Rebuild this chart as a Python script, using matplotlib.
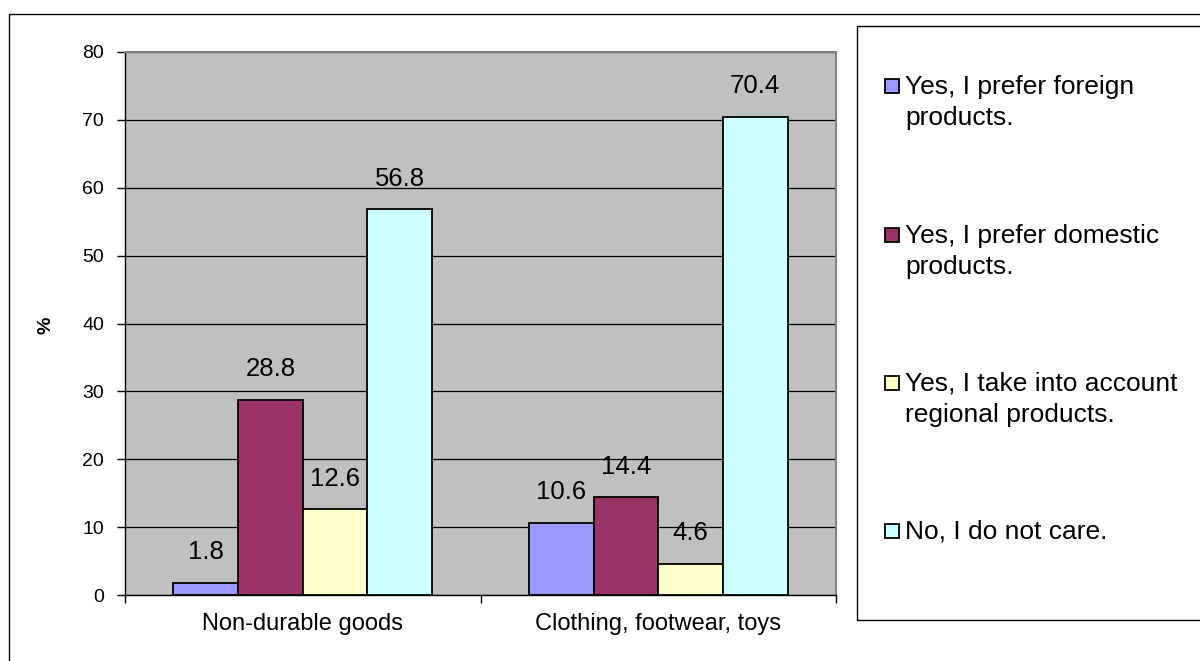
import matplotlib
matplotlib.use("Agg")
import matplotlib.pyplot as plt
from matplotlib.patches import Rectangle
import numpy as np

categories = ["Non-durable goods", "Clothing, footwear, toys"]
series_labels = [
    "Yes, I prefer foreign\nproducts.",
    "Yes, I prefer domestic\nproducts.",
    "Yes, I take into account\nregional products.",
    "No, I do not care.",
]
values = [
    [1.8, 10.6],
    [28.8, 14.4],
    [12.6, 4.6],
    [56.8, 70.4],
]
colors = ["#9999FF", "#993366", "#FFFFCC", "#CCFFFF"]
yticks = [0, 10, 20, 30, 40, 50, 60, 70, 80]

plt.rcParams['font.family'] = ['Liberation Sans', 'DejaVu Sans']

W, H = 1200, 661
fig = plt.figure(figsize=(12, 6.61), dpi=100)

# outer chart border
fig.add_artist(Rectangle((9 / W, -0.1), 1.2, 1 - 14 / H + 0.1, transform=fig.transFigure,
                         fill=False, edgecolor="#000000", linewidth=1.0))

ax = fig.add_axes([125 / W, (H - 595) / H, (836 - 125) / W, (595 - 52) / H])
ax.set_facecolor("#C0C0C0")
n = len(values)
bw = 1.0 / (n + 1.5)
x = np.arange(len(categories))
for i, (vals, c) in enumerate(zip(values, colors)):
    pos = x + (i - (n - 1) / 2) * bw
    bars = ax.bar(pos, vals, width=bw, color=c, edgecolor="black", linewidth=1.3, zorder=3)
    for b, v in zip(bars, vals):
        ax.text(b.get_x() + b.get_width() / 2, v + 3.5, f"{v}", ha="center", va="baseline",
                fontsize=18.5, zorder=4)

ax.set_xlim(-0.5, len(categories) - 0.5)
ax.set_ylim(0, 80)
ax.set_yticks(yticks)
ax.set_yticklabels([str(t) for t in yticks], fontsize=14)
ax.yaxis.grid(True, color="#000000", linewidth=0.9, zorder=0)
ax.set_axisbelow(True)
ax.set_xticks(x)
ax.set_xticklabels(categories, fontsize=17)
ax.set_xticks([-0.5, 0.5, 1.5], minor=True)
ax.tick_params(axis="x", which="major", length=0, pad=13)
ax.tick_params(axis="x", which="minor", length=6, width=1, color="#000000")
ax.tick_params(axis="y", length=6, width=1, pad=9)
for s in ["top", "right"]:
    ax.spines[s].set_color("#808080")
    ax.spines[s].set_linewidth(1.5)
for s in ["left", "bottom"]:
    ax.spines[s].set_color("#000000")
    ax.spines[s].set_linewidth(1.0)
fig.text(46 / W, 1 - 325 / H, "%", rotation=90, fontsize=14, fontweight="bold",
         ha="center", va="center")

# legend box
fig.add_artist(Rectangle((857 / W, 1 - 620 / H), 0.5, (620 - 26) / H, transform=fig.transFigure,
                         facecolor="white", edgecolor="#000000", linewidth=1.0))
marker_y = [86, 235, 383, 531]
for lab, c, my in zip(series_labels, colors, marker_y):
    fig.add_artist(Rectangle((885 / W, 1 - (my + 7) / H), 14 / W, 14 / H,
                             transform=fig.transFigure, facecolor=c, edgecolor="black",
                             linewidth=1.3))
    fig.text(905 / W, 1 - (my - 11) / H, lab, fontsize=19, ha="left", va="top",
             linespacing=1.36)

fig.savefig("out.png", dpi=100)
